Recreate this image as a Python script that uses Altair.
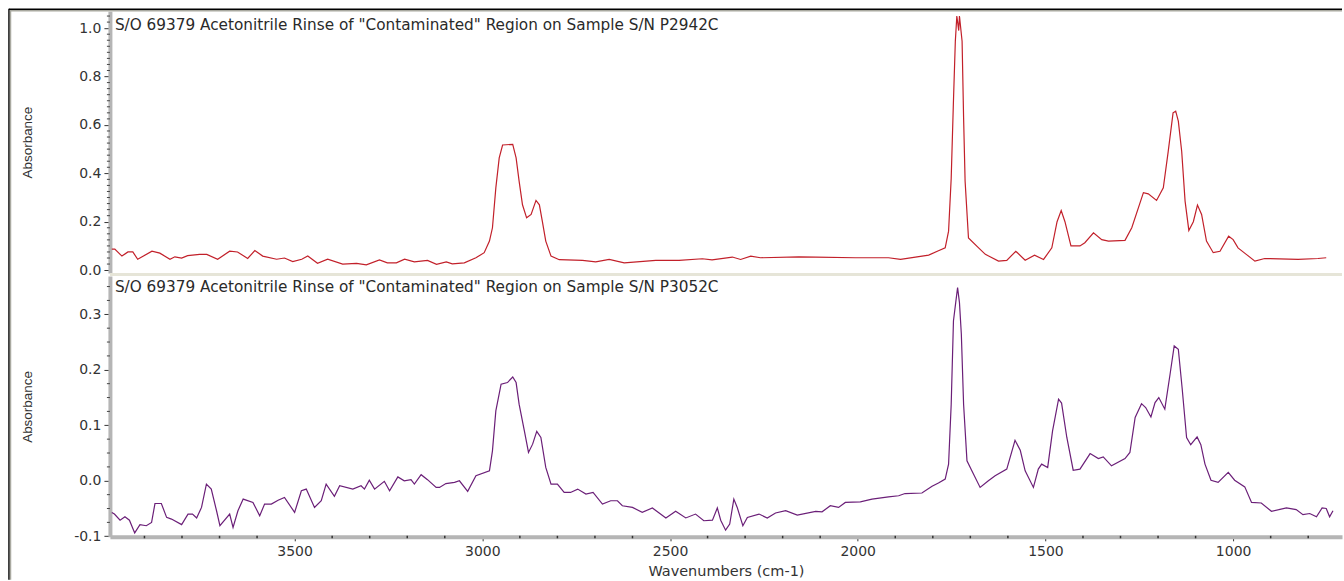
import altair as alt
import pandas as pd

# ---------------- data ----------------
top_wn = [3987, 3979, 3960, 3944, 3931, 3918, 3880, 3859, 3832, 3819, 3801, 3785, 3753, 3734, 3705,
          3673, 3652, 3625, 3606, 3585, 3548, 3527, 3505, 3481, 3465, 3439, 3412, 3372, 3335, 3309,
          3274, 3253, 3229, 3207, 3181, 3146, 3122, 3096, 3080, 3048, 3017, 2995, 2981, 2973, 2964,
          2955, 2946, 2919, 2910, 2902, 2893, 2882, 2870, 2857, 2848, 2840, 2831, 2817, 2795, 2733,
          2698, 2662, 2622, 2538, 2476, 2414, 2388, 2334, 2312, 2285, 2259, 2157, 2112, 2006, 1918,
          1886, 1811, 1785, 1767, 1758, 1751, 1745, 1740, 1736, 1731, 1729, 1722, 1718, 1714, 1705,
          1678, 1660, 1625, 1603, 1579, 1554, 1529, 1505, 1483, 1469, 1458, 1448, 1432, 1408, 1395,
          1372, 1350, 1332, 1288, 1270, 1239, 1226, 1204, 1186, 1173, 1160, 1153, 1146, 1137, 1128,
          1118, 1106, 1095, 1084, 1071, 1053, 1035, 1012, 1000, 987, 965, 942, 916, 827, 774, 752]
top_abs = [0.087, 0.087, 0.058, 0.075, 0.075, 0.045, 0.078, 0.070, 0.045, 0.055, 0.050, 0.060, 0.065, 0.065, 0.045,
           0.078, 0.075, 0.048, 0.081, 0.058, 0.045, 0.050, 0.035, 0.045, 0.058, 0.028, 0.045, 0.025, 0.028, 0.022,
           0.042, 0.030, 0.030, 0.045, 0.034, 0.040, 0.024, 0.034, 0.026, 0.030, 0.051, 0.072, 0.120, 0.175, 0.340,
           0.464, 0.517, 0.520, 0.464, 0.368, 0.270, 0.216, 0.230, 0.288, 0.270, 0.200, 0.120, 0.058, 0.043, 0.040,
           0.034, 0.044, 0.030, 0.040, 0.040, 0.047, 0.042, 0.054, 0.044, 0.058, 0.051, 0.055, 0.054, 0.051, 0.051,
           0.044, 0.062, 0.080, 0.092, 0.161, 0.380, 0.700, 0.946, 1.050, 0.990, 1.050, 0.946, 0.630, 0.368, 0.133,
           0.092, 0.065, 0.037, 0.040, 0.078, 0.041, 0.062, 0.044, 0.092, 0.200, 0.246, 0.200, 0.100, 0.100, 0.113,
           0.154, 0.126, 0.120, 0.123, 0.175, 0.320, 0.315, 0.288, 0.340, 0.490, 0.650, 0.657, 0.616, 0.490, 0.285,
           0.164, 0.200, 0.269, 0.230, 0.120, 0.072, 0.078, 0.140, 0.126, 0.092, 0.065, 0.037, 0.048, 0.044, 0.048, 0.051]

bot_wn = [3987, 3980, 3965, 3952, 3940, 3926, 3912, 3895, 3881, 3872, 3855, 3841, 3828, 3801, 3784,
          3772, 3761, 3748, 3735, 3722, 3708, 3699, 3673, 3664, 3651, 3637, 3611, 3593, 3580, 3562,
          3544, 3527, 3500, 3482, 3469, 3447, 3429, 3416, 3394, 3380, 3345, 3323, 3314, 3301, 3287,
          3261, 3247, 3225, 3208, 3190, 3181, 3163, 3146, 3123, 3114, 3097, 3074, 3061, 3039, 3017,
          2981, 2973, 2964, 2950, 2933, 2919, 2910, 2902, 2888, 2877, 2866, 2855, 2844, 2831, 2817,
          2800, 2782, 2765, 2746, 2724, 2705, 2680, 2658, 2640, 2627, 2600, 2574, 2547, 2511, 2485,
          2458, 2432, 2410, 2387, 2374, 2365, 2352, 2341, 2330, 2321, 2306, 2294, 2263, 2241, 2219,
          2192, 2161, 2112, 2095, 2073, 2051, 2033, 1993, 1962, 1918, 1891, 1874, 1829, 1802, 1785,
          1767, 1758, 1751, 1745, 1739, 1734, 1729, 1724, 1718, 1709, 1696, 1674, 1652, 1634, 1603,
          1581, 1567, 1554, 1532, 1519, 1510, 1494, 1481, 1465, 1457, 1443, 1426, 1408, 1381, 1359,
          1346, 1324, 1288, 1275, 1261, 1244, 1233, 1219, 1208, 1198, 1182, 1168, 1157, 1146, 1136,
          1124, 1113, 1096, 1086, 1075, 1059, 1040, 1013, 996, 969, 951, 925, 898, 858, 832,
          814, 796, 778, 763, 752, 743, 734]
bot_abs = [-0.057, -0.060, -0.071, -0.065, -0.071, -0.094, -0.079, -0.081, -0.075, -0.041, -0.041, -0.066, -0.069, -0.079, -0.060,
           -0.060, -0.067, -0.048, -0.006, -0.015, -0.054, -0.081, -0.060, -0.084, -0.054, -0.033, -0.039, -0.063, -0.042, -0.042,
           -0.035, -0.030, -0.057, -0.018, -0.015, -0.048, -0.036, -0.006, -0.028, -0.009, -0.015, -0.009, -0.015, 0.001, -0.015,
           -0.001, -0.018, 0.007, 0.000, 0.002, -0.006, 0.011, 0.002, -0.012, -0.012, -0.005, -0.003, 0.000, -0.019, 0.009,
           0.018, 0.054, 0.126, 0.174, 0.177, 0.187, 0.177, 0.138, 0.090, 0.051, 0.066, 0.089, 0.078, 0.024, -0.006,
           -0.006, -0.021, -0.021, -0.015, -0.024, -0.021, -0.042, -0.036, -0.036, -0.045, -0.048, -0.057, -0.049, -0.067, -0.055,
           -0.067, -0.060, -0.072, -0.071, -0.049, -0.071, -0.089, -0.078, -0.033, -0.048, -0.081, -0.066, -0.060, -0.067, -0.058,
           -0.054, -0.062, -0.055, -0.056, -0.045, -0.048, -0.039, -0.038, -0.033, -0.029, -0.027, -0.023, -0.022, -0.010, -0.004,
           0.003, 0.030, 0.138, 0.288, 0.321, 0.348, 0.321, 0.264, 0.138, 0.036, 0.018, -0.012, 0.000, 0.009, 0.021,
           0.073, 0.055, 0.018, -0.012, 0.021, 0.030, 0.024, 0.090, 0.147, 0.140, 0.078, 0.019, 0.021, 0.049, 0.040,
           0.043, 0.027, 0.040, 0.051, 0.114, 0.139, 0.132, 0.115, 0.141, 0.150, 0.129, 0.192, 0.243, 0.237, 0.168,
           0.078, 0.065, 0.079, 0.065, 0.030, 0.001, -0.003, 0.015, 0.001, -0.011, -0.039, -0.040, -0.055, -0.049, -0.052,
           -0.061, -0.059, -0.065, -0.049, -0.050, -0.065, -0.054]

top_label = 'S/O 69379 Acetonitrile Rinse of "Contaminated" Region on Sample S/N P2942C'
bot_label = 'S/O 69379 Acetonitrile Rinse of "Contaminated" Region on Sample S/N P3052C'

x_ticks = [3500, 3000, 2500, 2000, 1500, 1000]
x_minor = [3900, 3800, 3700, 3600, 3400, 3300, 3200, 3100, 2900, 2800, 2700, 2600, 2400, 2300,
           2200, 2100, 1900, 1800, 1700, 1600, 1400, 1300, 1200, 1100, 900, 800]
top_y_ticks = [0.0, 0.2, 0.4, 0.6, 0.8, 1.0]
top_y_minor = [0.025, 0.05, 0.075, 0.1, 0.125, 0.15, 0.175, 0.225, 0.25, 0.275, 0.3, 0.325, 0.35,
               0.375, 0.425, 0.45, 0.475, 0.5, 0.525, 0.55, 0.575, 0.625, 0.65, 0.675, 0.7, 0.725,
               0.75, 0.775, 0.825, 0.85, 0.875, 0.9, 0.925, 0.95, 0.975, 1.025, 1.05]
bot_y_ticks = [-0.1, 0.0, 0.1, 0.2, 0.3]
bot_y_minor = [-0.075, -0.05, -0.025, 0.025, 0.05, 0.075, 0.125, 0.15, 0.175, 0.225, 0.25,
               0.275, 0.325, 0.35]

# ---------------- styling ----------------
W = 1233
H1 = 262
H2 = 261
RED = "#c2202a"
PURPLE = "#6b1f78"
AXIS_GRAY = "#b5b5b5"
FRAME_GRAY = "#a9a9a0"
BAND = "#e6e5d8"
TXT = "#2a2a2a"
LABEL_FONT = "DejaVu Sans"

top_df = pd.DataFrame({"wn": top_wn, "absorbance": top_abs})
bot_df = pd.DataFrame({"wn": bot_wn, "absorbance": bot_abs})

xscale = alt.Scale(domain=[710, 3992], reverse=True, nice=False, zero=False)
label_expr = "datum.value < 0 ? '-' + format(-datum.value, '.1f') : format(datum.value, '.1f')"


def y_axis(values, h):
    return alt.Axis(values=values, labelExpr=label_expr, title="Absorbance", grid=False,
                    domainColor=AXIS_GRAY, domainWidth=4, tickColor="#333333", tickSize=6,
                    tickWidth=1, labelFont=LABEL_FONT, labelFontSize=14, labelColor="#333333",
                    labelPadding=3, titleFont="Liberation Sans", titleFontSize=13.5,
                    titleFontWeight="normal", titleColor="#333333", titleAngle=270,
                    titleX=-82, titleY=h / 2, titleAlign="center", titleBaseline="middle")


y_top = alt.Y("absorbance:Q", scale=alt.Scale(domain=[-0.012, 1.07], nice=False, zero=False),
              axis=y_axis(top_y_ticks, H1))
y_bot = alt.Y("absorbance:Q", scale=alt.Scale(domain=[-0.101, 0.369], nice=False, zero=False),
              axis=y_axis(bot_y_ticks, H2))

x_top = alt.X("wn:Q", scale=xscale, axis=None)
x_bot = alt.X("wn:Q", scale=xscale,
              axis=alt.Axis(values=x_ticks, format="d", title="Wavenumbers (cm-1)", grid=False,
                            domainColor=AXIS_GRAY, domainWidth=4, tickColor="#333333",
                            tickSize=4, labelFont=LABEL_FONT, labelFontSize=14,
                            labelColor="#333333", labelPadding=4, titleFont=LABEL_FONT,
                            titleFontSize=14.5, titleFontWeight="normal", titleColor="#333333",
                            titleY=39, titleBaseline="alphabetic"))

one = alt.Data(values=[{}])

# frame lines and separator band (decoration)
frame = [
    alt.Chart(one).mark_rule(color="black", strokeWidth=1.5).encode(
        x=alt.value(-101), x2=alt.value(W), y=alt.value(-2)),
    alt.Chart(one).mark_rule(color=FRAME_GRAY, strokeWidth=1.5).encode(
        x=alt.value(-100), x2=alt.value(W), y=alt.value(-0.5)),
    alt.Chart(one).mark_rule(color="black", strokeWidth=1.5).encode(
        x=alt.value(-101), y=alt.value(-2.5), y2=alt.value(569)),
    alt.Chart(one).mark_rule(color=FRAME_GRAY, strokeWidth=1.5).encode(
        x=alt.value(-99.5), y=alt.value(-1.25), y2=alt.value(569)),
    alt.Chart(one).mark_rule(color=BAND, strokeWidth=3).encode(
        x=alt.value(0), x2=alt.value(W), y=alt.value(H1 + 1.5)),
]

top_minor = alt.Chart(pd.DataFrame({"absorbance": top_y_minor})).mark_rule(
    color="#444444", strokeWidth=1).encode(y=y_top, x=alt.value(-3), x2=alt.value(0))
bot_minor = alt.Chart(pd.DataFrame({"absorbance": bot_y_minor})).mark_rule(
    color="#444444", strokeWidth=1).encode(y=y_bot, x=alt.value(-3), x2=alt.value(0))
x_minor_marks = alt.Chart(pd.DataFrame({"wn": x_minor})).mark_rule(
    color="#333333", strokeWidth=1.5).encode(x=x_bot, y=alt.value(H2 - 1), y2=alt.value(H2 + 1.5))

top_line = alt.Chart(top_df).mark_line(color=RED, strokeWidth=1.2).encode(x=x_top, y=y_top)
bot_line = alt.Chart(bot_df).mark_line(color=PURPLE, strokeWidth=1.2).encode(x=x_bot, y=y_bot)

top_text = alt.Chart(pd.DataFrame({"t": [top_label]})).mark_text(
    align="left", baseline="alphabetic", font=LABEL_FONT, fontSize=15.3, color=TXT).encode(
    x=alt.value(5), y=alt.value(18.5), text="t:N")
bot_text = alt.Chart(pd.DataFrame({"t": [bot_label]})).mark_text(
    align="left", baseline="alphabetic", font=LABEL_FONT, fontSize=15.3, color=TXT).encode(
    x=alt.value(5), y=alt.value(16), text="t:N")

top = alt.layer(*frame, top_minor, top_line, top_text).properties(width=W, height=H1)
bottom = alt.layer(bot_minor, x_minor_marks, bot_line, bot_text).properties(width=W, height=H2)

chart = alt.vconcat(top, bottom, spacing=3, bounds="flush").properties(
    padding={"left": 8, "top": 7, "right": 0, "bottom": 0},
    background="white",
).configure_view(stroke=None)

chart.save("out.html", embed_options={"renderer": "svg", "actions": False})
